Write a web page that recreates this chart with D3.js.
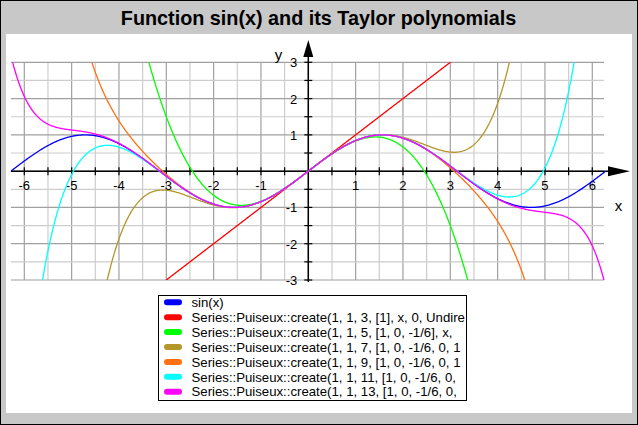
<!DOCTYPE html>
<html><head><meta charset="utf-8">
<script src="https://cdn.jsdelivr.net/npm/d3@7"></script>
<style>body{margin:0;background:#fff}svg{display:block}text{font-family:"Liberation Sans",Arial,sans-serif}</style>
</head><body><svg id="c" width="638" height="425"></svg>
<script>
const titleText = "Function sin(x) and its Taylor polynomials";
const xDomain = [-2 * Math.PI, 2 * Math.PI];
const yDomain = [-3, 3];
const xTickLabels = [-6, -5, -4, -3, -2, -1, 1, 2, 3, 4, 5, 6];
const yTickLabels = [-3, -2, -1, 1, 2, 3];
// Taylor coefficients of sin(x) around 0 (c1, c2, c3, ...), as in the legend
const sinCoefficients = [1, 0, -1/6, 0, 1/120, 0, -1/5040, 0, 1/362880, 0, -1/39916800, 0];
// truncation orders of the Puiseux series
const seriesOrders = [3, 5, 7, 9, 11, 13];
const seriesNames = [
  "sin(x)",
  "Series::Puiseux::create(1, 1, 3, [1], x, 0, Undire",
  "Series::Puiseux::create(1, 1, 5, [1, 0, -1/6], x,",
  "Series::Puiseux::create(1, 1, 7, [1, 0, -1/6, 0, 1",
  "Series::Puiseux::create(1, 1, 9, [1, 0, -1/6, 0, 1",
  "Series::Puiseux::create(1, 1, 11, [1, 0, -1/6, 0,",
  "Series::Puiseux::create(1, 1, 13, [1, 0, -1/6, 0,"
];
const seriesColors = ["#0000ff", "#ff0000", "#00ff00", "#b4962a", "#ff7010", "#00ffff", "#ff00ff"];

const svg = d3.select("#c");
const W = 638, H = 425;
svg.append("rect").attr("x", 0.5).attr("y", 0.5).attr("width", W - 1).attr("height", H - 1)
  .attr("fill", "#c8c8c8").attr("stroke", "#000");
svg.append("rect").attr("x", 6).attr("y", 34).attr("width", 626).attr("height", 379).attr("fill", "#fff");
svg.append("text").attr("x", 318.5).attr("y", 25).attr("text-anchor", "middle")
  .attr("font-size", 19.8).attr("font-weight", "bold").text(titleText);

const x = d3.scaleLinear().domain(xDomain).range([10.9, 605.7]);
const y = d3.scaleLinear().domain(yDomain).range([280, 62.3]);

// grid
const g = svg.append("g");
const minorX = d3.range(-12, 13).map(d => d / 2);
const minorY = d3.range(-6, 7).map(d => d / 2);
g.selectAll(".vx").data(minorX).join("line")
  .attr("x1", d => x(d)).attr("x2", d => x(d)).attr("y1", y(3)).attr("y2", y(-3))
  .attr("stroke", d => Number.isInteger(d) ? "#a0a0a0" : "#cdcdcd").attr("stroke-width", 1.2);
g.selectAll(".hy").data(minorY).join("line")
  .attr("y1", d => y(d)).attr("y2", d => y(d)).attr("x1", x.range()[0]).attr("x2", 604)
  .attr("stroke", d => Number.isInteger(d) ? "#a0a0a0" : "#cdcdcd").attr("stroke-width", 1.2);

// axes
const ax = svg.append("g").attr("stroke", "#000");
ax.append("line").attr("x1", x.range()[0]).attr("x2", 610).attr("y1", y(0)).attr("y2", y(0)).attr("stroke-width", 1.5);
ax.append("line").attr("x1", x(0)).attr("x2", x(0)).attr("y1", 282).attr("y2", 55).attr("stroke-width", 1.5);
svg.append("path").attr("d", `M${x(0)},40 L${x(0)-5},57 L${x(0)+5},57 Z`).attr("fill", "#000");
svg.append("path").attr("d", `M630,${y(0)} L608,${y(0)-5} L608,${y(0)+5} Z`).attr("fill", "#000");
ax.selectAll(".tx").data(minorX.filter(d => d !== 0)).join("line")
  .attr("x1", d => x(d)).attr("x2", d => x(d)).attr("y1", y(0) - 4).attr("y2", y(0) + 4).attr("stroke-width", 1.2);
ax.selectAll(".ty").data(minorY.filter(d => d !== 0)).join("line")
  .attr("y1", d => y(d)).attr("y2", d => y(d)).attr("x1", x(0) - 4).attr("x2", x(0) + 4).attr("stroke-width", 1.2);

svg.selectAll(".xl").data(xTickLabels).join("text")
  .attr("x", d => x(d)).attr("y", y(0) + 19).attr("text-anchor", "middle").attr("font-size", 13).text(d => d);
svg.selectAll(".yl").data(yTickLabels).join("text")
  .attr("x", x(0) - 11).attr("y", d => y(d) + 5).attr("text-anchor", "end").attr("font-size", 13).text(d => d);
svg.append("text").attr("x", 278.5).attr("y", 60).attr("text-anchor", "middle").attr("font-size", 15).text("y");
svg.append("text").attr("x", 618.5).attr("y", 211).attr("text-anchor", "middle").attr("font-size", 15).text("x");

// curves
svg.append("clipPath").attr("id", "plotclip").append("rect")
  .attr("x", x.range()[0]).attr("y", y(3)).attr("width", x.range()[1] - x.range()[0]).attr("height", y(-3) - y(3));
const xs = d3.range(0, 801).map(i => xDomain[0] + (xDomain[1] - xDomain[0]) * i / 800);
const evalPoly = (order, v) => {
  let s = 0;
  for (let k = 1; k < order; k++) s += (sinCoefficients[k - 1] || 0) * Math.pow(v, k);
  return s;
};
const series = [xs.map(v => [v, Math.sin(v)])].concat(seriesOrders.map(o => xs.map(v => [v, evalPoly(o, v)])));
const line = d3.line().x(d => x(d[0])).y(d => y(Math.max(-6, Math.min(6, d[1]))));
const cg = svg.append("g").attr("clip-path", "url(#plotclip)");
cg.selectAll("path").data(series).join("path")
  .attr("d", line).attr("fill", "none").attr("stroke", (d, i) => seriesColors[i]).attr("stroke-width", 1.3);

// legend
const lx = 158.5, ly = 295.5, lw = 308, lh = 105;
svg.append("rect").attr("x", lx).attr("y", ly).attr("width", lw).attr("height", lh).attr("fill", "#fff").attr("stroke", "#000");
const lg = svg.append("g");
const rows = lg.selectAll("g").data(seriesNames).join("g")
  .attr("transform", (d, i) => `translate(0,${302.3 + i * 14.9})`);
rows.append("rect").attr("x", 164).attr("y", -3).attr("width", 18).attr("height", 6).attr("rx", 3)
  .attr("fill", (d, i) => seriesColors[i]);
rows.append("text").attr("x", 191.5).attr("y", 4.7).attr("font-size", 13.2).text(d => d);
</script></body></html>
